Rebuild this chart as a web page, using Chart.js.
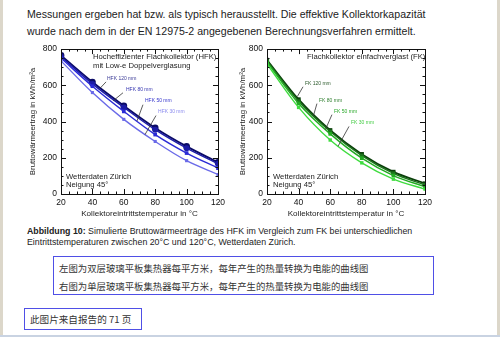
<!DOCTYPE html>
<html>
<head>
<meta charset="utf-8">
<script src="https://cdn.jsdelivr.net/npm/chart.js@4.4.1/dist/chart.umd.min.js"></script>
<style>
html, body { margin: 0; padding: 0; }
body { width: 500px; height: 337px; position: relative; overflow: hidden; background: #fff;
  font-family: "Liberation Sans", Arial, sans-serif; color: #222; }
.edge { position: absolute; top: 0; bottom: 0; width: 3px; background: #dcd7ca; }
.foot { position: absolute; left: 0; right: 0; bottom: 0; height: 2px; background: #c9d3e2; }
.para { position: absolute; left: 27px; top: 6px; font-size: 10.6px; line-height: 17px; white-space: nowrap; }
.cap { position: absolute; left: 27px; top: 226px; font-size: 8.8px; line-height: 10.8px; white-space: nowrap; }
.box { position: absolute; border: 1.5px solid #4f4fe6; box-sizing: border-box;
  font-family: "Noto Sans CJK SC", sans-serif; color: #333; white-space: nowrap; }
#b1 { left: 53px; top: 256px; width: 381px; height: 39px; padding: 2px 0 0 5px; font-size: 9.4px; line-height: 18px; }
#b2 { left: 24px; top: 308px; width: 118px; height: 22px; padding: 1px 0 0 5px; font-size: 9.6px; line-height: 18px; }
.wrap { position: absolute; top: 40px; height: 182px; }
</style>
</head>
<body>
<div class="edge" style="left:0"></div>
<div class="edge" style="right:0"></div>
<div class="foot"></div>

<div class="para">Messungen ergeben hat bzw. als typisch herausstellt. Die effektive Kollektorkapazität<br>wurde nach dem in der EN 12975-2 angegebenen Berechnungsverfahren ermittelt.</div>

<div class="wrap" style="left:20px;width:210px"><canvas id="left"></canvas></div>
<div class="wrap" style="left:230px;width:207px"><canvas id="right"></canvas></div>

<div class="cap"><b>Abbildung 10:</b> Simulierte Bruttowärmeerträge des HFK im Vergleich zum FK bei unterschiedlichen<br>Eintrittstemperaturen zwischen 20°C und 120°C, Wetterdaten Zürich.</div>

<div class="box" id="b1">左图为双层玻璃平板集热器每平方米，每年产生的热量转换为电能的曲线图<br>右图为单层玻璃平板集热器每平方米，每年产生的热量转换为电能的曲线图</div>
<div class="box" id="b2">此图片来自报告的 71 页</div>

<script>
// inlet temperature, °C
const temps = [20, 40, 60, 80, 100, 120];
// gross heat yield, kWh/m²a
const hfk120 = [765, 618, 487, 365, 263, 175];
const hfk80  = [758, 608, 478, 355, 253, 167];
const hfk50  = [750, 595, 456, 328, 226, 143];
const hfk30  = [735, 560, 412, 290, 184, 108];
const fk120 = [740, 522, 352, 220, 122, 58];
const fk80  = [735, 512, 345, 212, 114, 50];
const fk50  = [728, 500, 332, 198, 102, 40];
const fk30  = [718, 478, 298, 172, 82, 27];
const hfkNames = ['HFK 120 mm', 'HFK 80 mm', 'HFK 50 mm', 'HFK 30 mm'];
const fkNames = ['FK 120 mm', 'FK 80 mm', 'FK 50 mm', 'FK 30 mm'];
const xTicks = [20, 40, 60, 80, 100, 120];
const yTicks = [0, 200, 400, 600, 800];

const font = '"Liberation Sans", Arial, sans-serif';

// box round the plot, inward ticks, texts inside the plot
const decor = {
	id: 'decor',
	afterDraw(chart, args, opts) {
		const { ctx, chartArea: a, scales: { x, y } } = chart;
		ctx.save();
		ctx.strokeStyle = '#111';
		ctx.lineWidth = 1;
		ctx.strokeRect(Math.round(a.left) + 0.5, Math.round(a.top) + 0.5, Math.round(a.width), Math.round(a.height));
		ctx.beginPath();
		for (let v = xTicks[0]; v <= xTicks[xTicks.length - 1]; v += 5) {
			const px = Math.round(x.getPixelForValue(v)) + 0.5;
			const len = xTicks.includes(v) ? 5 : 2.5;
			ctx.moveTo(px, a.bottom); ctx.lineTo(px, a.bottom - len);
			ctx.moveTo(px, a.top); ctx.lineTo(px, a.top + len);
		}
		for (let v = yTicks[0]; v <= yTicks[yTicks.length - 1]; v += 50) {
			const py = Math.round(y.getPixelForValue(v)) + 0.5;
			const len = yTicks.includes(v) ? 5 : 2.5;
			ctx.moveTo(a.left, py); ctx.lineTo(a.left + len, py);
			ctx.moveTo(a.right, py); ctx.lineTo(a.right - len, py);
		}
		ctx.stroke();

		ctx.fillStyle = '#222';
		ctx.font = '7.7px ' + font;
		ctx.textBaseline = 'middle';
		ctx.textAlign = 'left';
		opts.title.forEach((t, i) => ctx.fillText(t, a.left + opts.titleDx, a.top + 8 + i * 9));
		ctx.fillText('Wetterdaten Zürich', a.left + opts.noteDx, a.bottom - 17);
		ctx.fillText('Neigung 45°', a.left + opts.noteDx, a.bottom - 9);

		ctx.font = '5px ' + font;
		ctx.lineWidth = 0.8;
		ctx.strokeStyle = '#333';
		opts.labels.forEach((l, i) => {
			ctx.beginPath();
			ctx.moveTo(x.getPixelForValue(l.from[0]), y.getPixelForValue(l.from[1]));
			ctx.lineTo(x.getPixelForValue(l.to[0]), y.getPixelForValue(l.to[1]));
			ctx.stroke();
			ctx.fillStyle = opts.textColors[i];
			ctx.fillText(opts.names[i], x.getPixelForValue(l.at[0]), y.getPixelForValue(l.at[1]));
		});
		ctx.restore();
	}
};

function makeChart(id, series, names, colors, shapes, sizes, yWidth, deco) {
	const datasets = series.map((s, i) => ({
		label: names[i],
		data: temps.map((t, k) => ({ x: t, y: s[k] })),
		borderColor: colors[i],
		backgroundColor: colors[i],
		borderWidth: i === 0 ? 1.8 : 1.4,
		pointStyle: shapes[i],
		pointRadius: sizes[i],
		pointBorderWidth: 0,
		cubicInterpolationMode: 'monotone',
	}));
	return new Chart(document.getElementById(id), {
		type: 'line',
		data: { datasets: datasets.reverse() },
		options: {
			responsive: true,
			maintainAspectRatio: false,
			animation: false,
			layout: { padding: { top: 8, right: 12, left: 0, bottom: 0 } },
			plugins: { legend: { display: false }, tooltip: { enabled: false }, decor: deco },
			scales: {
				x: {
					type: 'linear', min: 20, max: 120,
					afterFit(s) { s.height = 28; },
					grid: { display: false, drawTicks: false },
					border: { display: false },
					ticks: { stepSize: 20, padding: 4, color: '#111', font: { family: font, size: 8.5 } },
					title: { display: true, text: 'Kollektoreintrittstemperatur in °C', color: '#222',
						padding: { top: 0, bottom: 3 }, font: { family: font, size: 8.1 } },
				},
				y: {
					min: 0, max: 800,
					afterFit(s) { s.width = yWidth; },
					grid: { display: false, drawTicks: false },
					border: { display: false },
					ticks: { stepSize: 200, padding: 4, color: '#111', font: { family: font, size: 8.5 } },
					title: { display: true, text: 'Bruttowärmeertrag in kWh/m²a', color: '#222',
						padding: { top: 8, bottom: 0 }, font: { family: font, size: 7.9 } },
				},
			},
		},
		plugins: [decor],
	});
}

makeChart('left', [hfk120, hfk80, hfk50, hfk30], hfkNames,
	['#0b0b66', '#1c1ca6', '#2a2ad6', '#6a6ae8'],
	['circle', 'circle', 'rect', 'rect'], [3.4, 3, 2.6, 2.2], 41, {
		title: ['Hocheffizienter Flachkollektor (HFK)', 'mit Low-e Doppelverglasung'],
		titleDx: 32, noteDx: 5,
		names: hfkNames,
		textColors: ['#3a3a96', '#3535b0', '#3434cc', '#8a8aee'],
		labels: [
			{ at: [49.3, 636], from: [48.7, 619], to: [44.9, 584] },
			{ at: [61.4, 575], from: [59.5, 559], to: [53.3, 515] },
			{ at: [73.5, 515], from: [72.2, 493], to: [68.4, 403] },
			{ at: [81.8, 455], from: [80.5, 433], to: [73.5, 328] },
		],
	});

makeChart('right', [fk120, fk80, fk50, fk30], fkNames,
	['#0b3f0b', '#1b731b', '#22aa22', '#3fdc3f'],
	['rect', 'rect', 'rect', 'rect'], [3, 2.8, 2.6, 2.4], 37, {
		title: ['Flachkollektor einfachverglast (FK)'],
		titleDx: 40, noteDx: 6,
		names: fkNames,
		textColors: ['#2c5a2c', '#2f7f2f', '#2aa82a', '#44cc44'],
		labels: [
			{ at: [44, 608], from: [42.8, 592], to: [39.2, 538] },
			{ at: [52.9, 515], from: [51.6, 499], to: [49.4, 432] },
			{ at: [62.4, 455], from: [61.1, 438], to: [57, 356] },
			{ at: [73.2, 395], from: [71.9, 373], to: [65, 264] },
		],
	});
</script>
</body>
</html>
